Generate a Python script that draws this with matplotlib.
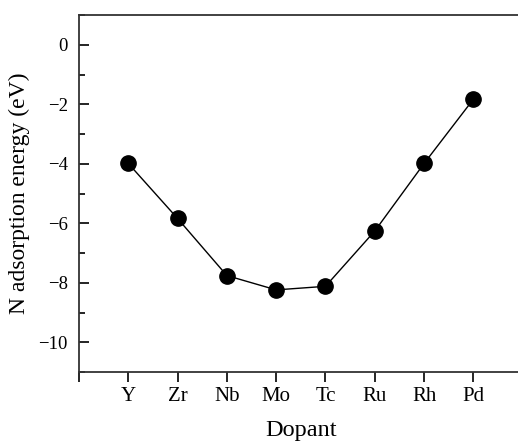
import matplotlib
matplotlib.use("Agg")
import matplotlib.pyplot as plt
from matplotlib.ticker import MultipleLocator

dopants = ["Y", "Zr", "Nb", "Mo", "Tc", "Ru", "Rh", "Pd"]
energy = [-3.99, -5.84, -7.76, -8.24, -8.12, -6.26, -3.99, -1.83]

plt.rcParams['font.family'] = ['Liberation Serif', 'DejaVu Serif']
plt.rcParams['mathtext.fontset'] = 'stix'

fig = plt.figure(figsize=(5.18, 4.43), dpi=100)
ax = fig.add_axes([79/518, 1-372/443, (9*49.3)/518, (372-15)/443])

x = list(range(1, len(dopants)+1))
ax.plot(x, energy, color='black', lw=1.0, marker='o', markersize=11,
        markerfacecolor='black', markeredgecolor='black')

ax.set_xlim(0, 9)
ax.set_ylim(-11, 1)
ax.set_xticks(list(range(0, 9)))
ax.set_xticklabels([''] + dopants)
ax.set_yticks([0, -2, -4, -6, -8, -10])
ax.set_yticklabels(['0', '\u22122', '\u22124', '\u22126', '\u22128', '\u221210'])
ax.yaxis.set_minor_locator(MultipleLocator(1))

ax.tick_params(axis='x', direction='out', length=7, width=1.2, labelsize=15, pad=4)
ax.tick_params(axis='y', which='major', direction='in', length=7, width=1.2, labelsize=13.5, pad=8)
ax.tick_params(axis='y', which='minor', direction='in', length=4, width=1.2)

for s in ['left', 'bottom', 'top']:
    ax.spines[s].set_linewidth(1.3)
    ax.spines[s].set_color('#333333')
ax.spines['right'].set_visible(False)

ax.set_xlabel('Dopant', fontsize=17.5, labelpad=10)
ax.set_ylabel('N adsorption energy (eV)', fontsize=17, labelpad=6)

fig.savefig('out.png', dpi=100)
